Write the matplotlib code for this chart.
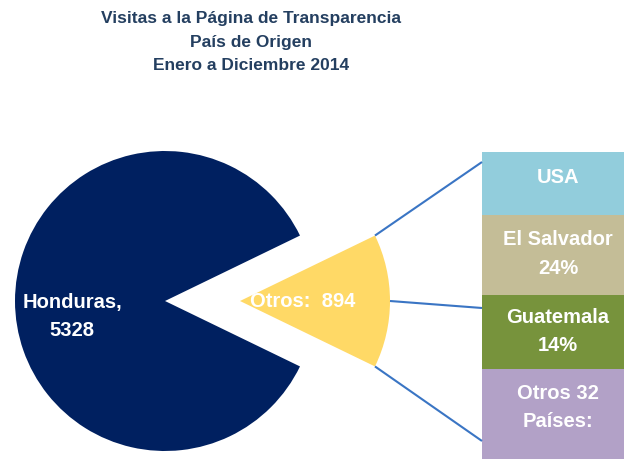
import numpy as np
import matplotlib
matplotlib.use("Agg")
import matplotlib.pyplot as plt
from matplotlib import font_manager

# ---------------- data ----------------
title_lines = ["Visitas a la Página de Transparencia", "País de Origen", "Enero a Diciembre 2014"]
pie_labels = ["Otros", "Honduras"]
pie_values = [894, 5328]
bar_labels = ["USA", "El Salvador\n24%", "Guatemala\n14%", "Otros 32\nPaíses:"]
bar_shares = [20.0, 25.0, 23.5, 31.5]   # relative heights of the stacked bar segments

# ---------------- style ----------------
names = {f.name for f in font_manager.fontManager.ttflist}
fam = [f for f in ["Liberation Sans Narrow", "Liberation Sans", "DejaVu Sans"] if f in names]
plt.rcParams["font.family"] = fam

navy = "#002060"
yellow = "#FFD966"
bar_colors = ["#92CDDC", "#C4BD97", "#77933C", "#B2A1C7"]
line_color = "#3A75C4"
title_color = "#243F60"

W, H = 624, 460
fig = plt.figure(figsize=(W / 100, H / 100), dpi=100)
ax = fig.add_axes([0, 0, 1, 1])

# pie in pixel coordinates
cx, cy, R = 165, 302, 150
explode_frac = 0.5
otros_frac = pie_values[0] / sum(pie_values)
half = otros_frac * 360 / 2
wedges, _ = ax.pie(pie_values, colors=[yellow, navy], startangle=-half,
                   center=(cx, cy), radius=R, explode=[explode_frac * R, 0.0],
                   wedgeprops=dict(linewidth=0))
ax.set_xlim(0, W)
ax.set_ylim(H, 0)
ax.set_aspect("auto")
ax.axis("off")

# exploded wedge geometry
ex = cx + explode_frac * R
ey = cy
a = np.deg2rad(half)
top_corner = (ex + R * np.cos(a), ey - R * np.sin(a))
bot_corner = (ex + R * np.cos(a), ey + R * np.sin(a))
arc_mid = (ex + R, ey)

# stacked bar
bx0, bw, btop, bh = 482, 156, 153, 317
scale = bh / sum(bar_shares)
bottom = btop
for s, c in zip(bar_shares, bar_colors):
    ax.bar(bx0, s * scale, width=bw, bottom=bottom, align="edge", color=c, linewidth=0)
    bottom += s * scale

# connector lines
targets = [163, 309, 442]
for (px, py), ty in zip([top_corner, arc_mid, bot_corner], targets):
    ax.plot([px, bx0], [py, ty], color=line_color, lw=1.5, solid_capstyle="butt")

# title
for i, t in enumerate(title_lines):
    fig.text(251 / W, 1 - (18 + 24 * i) / H, t, ha="center", va="center",
             fontsize=12.5, fontweight="bold", color=title_color)

# pie labels
fs = 14.5
ax.text(72, 317, "Honduras,\n5328", ha="center", va="center", color="white",
        fontsize=fs, fontweight="bold", linespacing=1.6)
ax.text(303, 302, "Otros:  894", ha="center", va="center", color="white",
        fontsize=fs, fontweight="bold")

# bar labels
label_y = [178, 254, 332, 408]
for lab, y in zip(bar_labels, label_y):
    ax.text(558, y, lab, ha="center", va="center", color="white",
            fontsize=fs, fontweight="bold", linespacing=1.6)

fig.savefig("out.png", dpi=100)
